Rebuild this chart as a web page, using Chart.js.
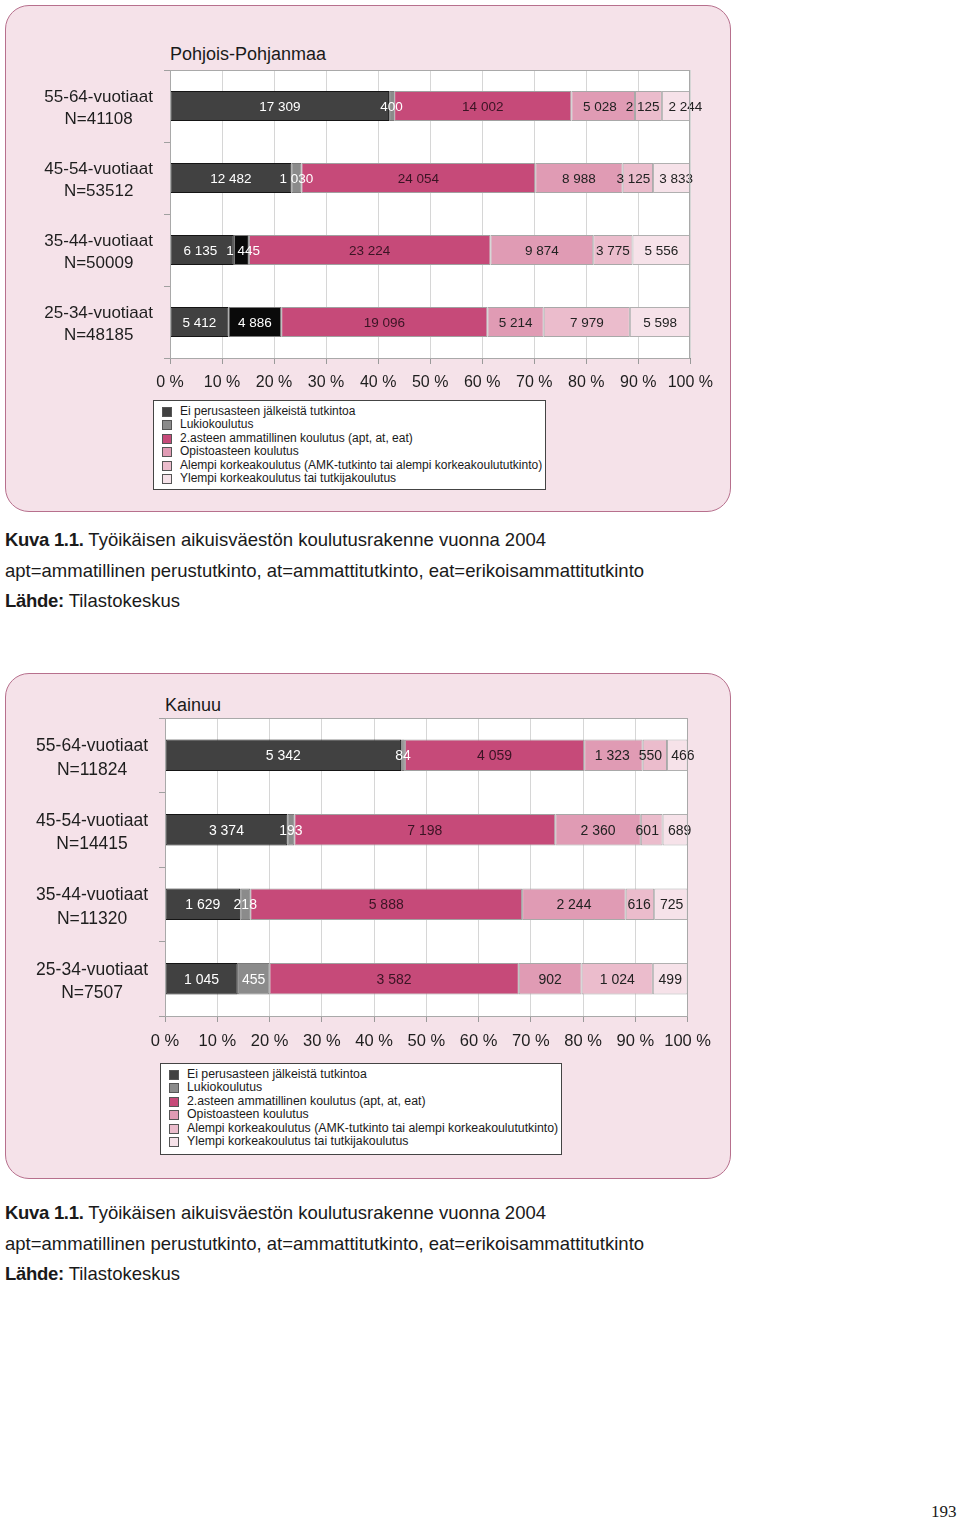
<!DOCTYPE html>
<html lang="fi">
<head>
<meta charset="utf-8">
<script src="https://cdn.jsdelivr.net/npm/chart.js@4.4.1/dist/chart.umd.min.js"></script>
<style>
  body { margin: 0; background: #fff; font-family: "Liberation Sans", Arial, sans-serif; color: #1a1a1a; }
  .page { position: relative; width: 960px; height: 1520px; overflow: hidden; }
  .panel { position: absolute; left: 5px; width: 726px; background: #f5e2e9; border: 1px solid #b7708d; border-radius: 24px; box-sizing: border-box; }
  .title { position: absolute; font-size: 18px; line-height: 20px; }
  .chart { position: absolute; }
  .legend { position: absolute; background: #fff; border: 1px solid #444; box-sizing: border-box; font-size: 12px; }
  .legend div { position: relative; height: 13.4px; line-height: 13.4px; white-space: nowrap; }
  .legend span { position: absolute; top: 2px; width: 8px; height: 8px; border: 1px solid #555; }
  .cap { position: absolute; left: 5px; font-size: 18.5px; line-height: 20px; white-space: nowrap; }
  .cap b { font-weight: bold; letter-spacing: -0.3px; }
  .pageno { position: absolute; left: 931px; top: 1502px; font-family: "Liberation Serif", serif; font-size: 17px; }
</style>
</head>
<body>
<div class="page">
  <div class="panel" style="top:5px;height:507px"></div>
  <div class="title" style="left:170px;top:44px">Pohjois-Pohjanmaa</div>
  <canvas id="chart1" class="chart" style="left:20px;top:60px" width="702" height="340"></canvas>
  <div id="legend1" class="legend" style="left:153px;top:400px;width:393px;height:90px;padding:4px 0 0 8px"></div>

  <div class="cap" style="top:530px"><b>Kuva 1.1.</b> Työikäisen aikuisväestön koulutusrakenne vuonna 2004</div>
  <div class="cap" style="top:561px">apt=ammatillinen perustutkinto, at=ammattitutkinto, eat=erikoisammattitutkinto</div>
  <div class="cap" style="top:591px"><b>Lähde:</b> Tilastokeskus</div>

  <div class="panel" style="top:673px;height:506px"></div>
  <div class="title" style="left:165px;top:695px">Kainuu</div>
  <canvas id="chart2" class="chart" style="left:15px;top:708px" width="706" height="350"></canvas>
  <div id="legend2" class="legend" style="left:160px;top:1063px;width:402px;height:92px;padding:4px 0 0 8px;font-size:12.3px"></div>

  <div class="cap" style="top:1203px"><b>Kuva 1.1.</b> Työikäisen aikuisväestön koulutusrakenne vuonna 2004</div>
  <div class="cap" style="top:1234px">apt=ammatillinen perustutkinto, at=ammattitutkinto, eat=erikoisammattitutkinto</div>
  <div class="cap" style="top:1264px"><b>Lähde:</b> Tilastokeskus</div>

  <div class="pageno">193</div>
</div>

<script>
const FONT = '"Liberation Sans", Arial, sans-serif'

// Series names (legend order)
const seriesNames = [
  "Ei perusasteen jälkeistä tutkintoa",
  "Lukiokoulutus",
  "2.asteen ammatillinen koulutus (apt, at, eat)",
  "Opistoasteen koulutus",
  "Alempi korkeakoulutus (AMK-tutkinto tai alempi korkeakoulututkinto)",
  "Ylempi korkeakoulutus tai tutkijakoulutus",
]

const xTicks = [0, 10, 20, 30, 40, 50, 60, 70, 80, 90, 100]

// Pohjois-Pohjanmaa
const ppCategories = [
  ["55-64-vuotiaat", "N=41108"],
  ["45-54-vuotiaat", "N=53512"],
  ["35-44-vuotiaat", "N=50009"],
  ["25-34-vuotiaat", "N=48185"],
]
const ppEi = [17309, 12482, 6135, 5412]
const ppLukio = [400, 1030, 1445, 4886]
const ppAmmat = [14002, 24054, 23224, 19096]
const ppOpisto = [5028, 8988, 9874, 5214]
const ppAlempi = [2125, 3125, 3775, 7979]
const ppYlempi = [2244, 3833, 5556, 5598]

// Kainuu
const kCategories = [
  ["55-64-vuotiaat", "N=11824"],
  ["45-54-vuotiaat", "N=14415"],
  ["35-44-vuotiaat", "N=11320"],
  ["25-34-vuotiaat", "N=7507"],
]
const kEi = [5342, 3374, 1629, 1045]
const kLukio = [84, 193, 218, 455]
const kAmmat = [4059, 7198, 5888, 3582]
const kOpisto = [1323, 2360, 2244, 902]
const kAlempi = [550, 601, 616, 1024]
const kYlempi = [466, 689, 725, 499]

// Styles
const fillColors = ["#414141", "#8b8b8b", "#c64a79", "#e09bb4", "#ebbccc", "#f6e2e9"]
const edgeColors = ["#151515", "#7a7a7a", "#a0a0a0", "#a8a8a8", "#a8a8a8", "#b0b0b0"]
const labelColors = ["#ffffff", "#ffffff", "#3a1424", "#222222", "#222222", "#222222"]

function fmt(v) {
  return String(v).replace(/\B(?=(\d{3})+(?!\d))/g, " ")
}

// White plot area + frame
const plotFrame = {
  id: "plotFrame",
  beforeDraw(chart) {
    const a = chart.chartArea
    chart.ctx.save()
    chart.ctx.fillStyle = "#ffffff"
    chart.ctx.fillRect(a.left, a.top, a.width, a.height)
    chart.ctx.restore()
  },
  afterDraw(chart) {
    const a = chart.chartArea
    const ctx = chart.ctx
    ctx.save()
    ctx.strokeStyle = "#a9a9a9"
    ctx.lineWidth = 1
    ctx.strokeRect(Math.round(a.left) + 0.5, Math.round(a.top) + 0.5, Math.round(a.width) - 1, Math.round(a.height))
    ctx.restore()
  },
}

// Values written in the middle of each segment, pushed apart when they collide
const valueLabels = {
  id: "valueLabels",
  afterDatasetsDraw(chart, args, opts) {
    const ctx = chart.ctx
    ctx.save()
    ctx.font = `${opts.size}px ${FONT}`
    ctx.textAlign = "center"
    ctx.textBaseline = "middle"
    const rows = chart.data.labels.map(() => [])
    chart.data.datasets.forEach((ds, i) => {
      chart.getDatasetMeta(i).data.forEach((bar, j) => {
        const text = fmt(ds.raw[j])
        rows[j].push({ text, x: (bar.x + bar.base) / 2, y: bar.y + 1, w: ctx.measureText(text).width, color: labelColors[i] })
      })
    })
    rows.forEach((row) => {
      for (let pass = 0; pass < 4; pass++) {
        for (let k = 1; k < row.length; k++) {
          const a = row[k - 1], b = row[k]
          const over = (a.x + a.w / 2 + 9) - (b.x - b.w / 2)
          if (over > 0) {
            a.x -= over / 2
            b.x += over / 2
          }
        }
      }
      row.forEach((l) => {
        ctx.fillStyle = l.color
        ctx.fillText(l.text, l.x, l.y)
      })
    })
    ctx.restore()
  },
}

function makeChart(id, categories, series, opt) {
  const totals = categories.map((c, j) => series.reduce((s, arr) => s + arr[j], 0))
  const datasets = series.map((arr, i) => ({
    label: seriesNames[i],
    raw: arr,
    data: arr.map((v, j) => (v / totals[j]) * 100),
    backgroundColor: opt.colors && opt.colors[i] ? opt.colors[i] : fillColors[i],
    borderColor: edgeColors[i],
    borderWidth: 1,
    borderSkipped: false,
    barPercentage: 0.42,
    categoryPercentage: 1,
  }))

  return new Chart(document.getElementById(id), {
    type: "bar",
    data: { labels: categories, datasets },
    plugins: [plotFrame, valueLabels],
    options: {
      indexAxis: "y",
      responsive: false,
      animation: false,
      layout: { padding: { top: 10, right: 30, left: 0, bottom: 0 } },
      plugins: {
        legend: { display: false },
        tooltip: { enabled: false },
        valueLabels: { size: opt.valueSize },
      },
      scales: {
        x: {
          stacked: true,
          min: 0,
          max: 100,
          afterBuildTicks: (s) => { s.ticks = xTicks.map((v) => ({ value: v })) },
          afterFit: (s) => { s.height = 42 },
          ticks: {
            callback: (v) => `${v} %`,
            color: "#1e1e1e",
            font: { family: FONT, size: opt.tickSize },
            padding: opt.xPad,
            maxRotation: 0,
            autoSkip: false,
          },
          grid: { color: "#d6d6d6", tickColor: "#9a9a9a", tickLength: 6 },
          border: { color: "#8e8e8e" },
        },
        y: {
          stacked: true,
          afterFit: (s) => {
            s.width = 150
            s.paddingTop = 0
            s.paddingBottom = 0
          },
          ticks: {
            crossAlign: "center",
            color: "#1e1e1e",
            font: { family: FONT, size: opt.catSize, lineHeight: opt.catLine },
            padding: 11,
            labelOffset: opt.catShift,
          },
          grid: { drawOnChartArea: false, tickLength: 6, color: "#a0a0a0" },
          border: { color: "#a9a9a9" },
        },
      },
    },
  })
}

function makeLegend(id) {
  const box = document.getElementById(id)
  seriesNames.forEach((name, i) => {
    const row = document.createElement("div")
    row.innerHTML = `<span style="background:${fillColors[i]}"></span><p style="margin:0 0 0 18px">${name}</p>`
    box.appendChild(row)
  })
}

makeChart("chart1",
  ppCategories,
  [ppEi, ppLukio, ppAmmat, ppOpisto, ppAlempi, ppYlempi],
  {
    valueSize: 13.5, tickSize: 16, catSize: 17, catLine: 1.3, xPad: 9, catShift: 2,
    // Lukiokoulutus bars print black in the two youngest groups
    colors: [null, ["#8b8b8b", "#8b8b8b", "#0a0a0a", "#0a0a0a"]],
  })

makeChart("chart2",
  kCategories,
  [kEi, kLukio, kAmmat, kOpisto, kAlempi, kYlempi],
  { valueSize: 14, tickSize: 16.5, catSize: 17.5, catLine: 1.35, xPad: 10, catShift: 3 })

makeLegend("legend1")
makeLegend("legend2")
</script>
</body>
</html>
